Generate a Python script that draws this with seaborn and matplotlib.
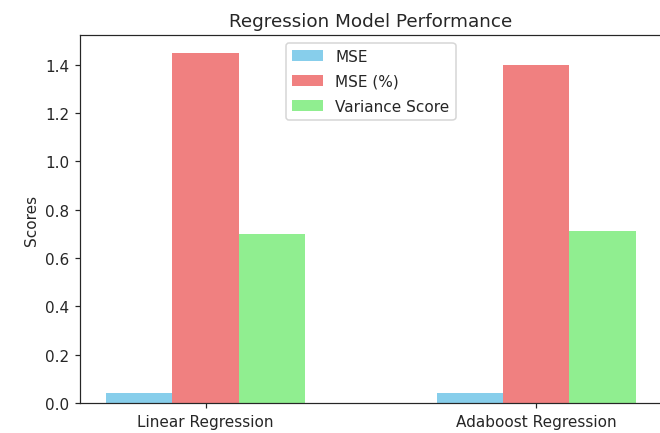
import pandas as pd
import matplotlib
matplotlib.use("Agg")
import matplotlib.pyplot as plt
import seaborn as sns

# Values
models = ["Linear Regression", "Adaboost Regression"]
metrics = ["MSE", "MSE (%)", "Variance Score"]
mse = [0.04, 0.04]
mse_pct = [1.45, 1.40]
variance = [0.70, 0.71]
colors = ["skyblue", "lightcoral", "lightgreen"]


def main():
    # Build a long-form table for seaborn
    rows = []
    for name, vals in zip(metrics, [mse, mse_pct, variance]):
        for model, v in zip(models, vals):
            rows.append({"Model": model, "Metric": name, "Score": v})
    df = pd.DataFrame(rows)

    sns.set_style("ticks")
    plt.rcParams["font.family"] = ["DejaVu Sans"]

    # Reference looks rendered at ~110 dpi
    fig = plt.figure(figsize=(6.0, 3.945), dpi=110)
    ax = fig.add_axes([0.121, 0.069, 0.882, 0.848])

    sns.barplot(data=df, x="Model", y="Score", hue="Metric",
                hue_order=metrics, palette=colors, width=0.6,
                saturation=1, linewidth=0, ax=ax)

    ax.set_xlim(-0.38, 1.38)
    ax.set_ylim(0, 1.5225)
    ax.set(xlabel="", ylabel="Scores")
    ax.set_title("Regression Model Performance", fontsize=12)
    ax.legend(loc="upper center", labelspacing=0.65)

    fig.savefig("out.png", dpi=110)


if __name__ == "__main__":
    main()
